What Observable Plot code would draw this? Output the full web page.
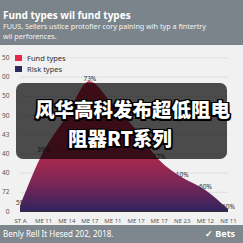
<!DOCTYPE html>
<html><head><meta charset="utf-8">
<script src="https://cdn.jsdelivr.net/npm/d3@7"></script>
<script src="https://cdn.jsdelivr.net/npm/@observablehq/plot@0.6"></script>
<style>
html,body{margin:0;padding:0;background:#f1f1f1;}
#wrap{position:relative;width:243px;height:243px;background:#f1f1f1;overflow:hidden;font-family:"Noto Sans","Open Sans",sans-serif;}
#head{position:absolute;left:0;top:0;width:243px;height:45px;background:#7b848a;color:#fff;}
#title{position:absolute;left:3px;top:8px;font-size:10px;font-weight:700;white-space:nowrap;}
#sub{position:absolute;left:3px;top:22px;font-size:7.2px;line-height:9.5px;color:#f4f4f4;white-space:nowrap;}
#chart{position:absolute;left:0;top:45px;}
#foot{position:absolute;left:0;top:225px;width:243px;height:18px;background:#7e878d;color:#fff;}
#foot .l{position:absolute;left:3px;top:3px;font-size:8px;white-space:nowrap;}
#foot .r{position:absolute;left:205px;top:2px;font-size:9px;font-weight:700;white-space:nowrap;}
#legend{position:absolute;left:15px;top:52px;font-size:7.5px;color:#333;}
#legend div{display:flex;align-items:center;height:11px;}
#legend span.sw{display:inline-block;width:7px;height:6px;margin-right:5px;}
#overlay{position:absolute;left:16px;top:83px;width:211px;height:76px;border-radius:7px;background:rgba(0,0,0,0.69);}
.cn{position:absolute;color:#fff;font-family:"Noto Sans CJK SC",sans-serif;font-weight:900;font-size:19.5px;white-space:nowrap;line-height:20px;
 text-shadow:-1.5px -1.5px 0 #000,1.5px -1.5px 0 #000,-1.5px 1.5px 0 #000,1.5px 1.5px 0 #000,0 1.5px 0 #000,0 -1.5px 0 #000,1.5px 0 0 #000,-1.5px 0 0 #000;}
</style></head>
<body>
<div id="wrap">
  <div id="head">
    <div id="title">Fund types wil fund types</div>
    <div id="sub">FUUS. Sellers ustice protofier cory paining wih typ a fintertry<br>wil perforences.</div>
  </div>
  <div id="chart"></div>
  <div id="legend"></div>
  <div id="overlay"></div>
  <div class="cn" id="cn1" style="left:35px;top:99px;">风华高科发布超低阻电</div>
  <div class="cn" id="cn2" style="left:68px;top:128px;">阻器RT系列</div>
  <div id="foot"><div class="l">Benly Rell It Hesed 202, 2018.</div><div class="r">✓ Bets</div></div>
</div>
<script>
const xLabels = ["ST A","ME 11","ME 14","ME 17","ME 11","ME 17","ME 17","NE 23","ME 12","NE 11"];
const values = [3, 33, 53, 73, 60, 46, 29, 19, 12, 1];
const pointLabels = ["5%","39%","","73%","","","27%","10%","60%","60%"];
const yTickValues = [0, 10.8, 21.6, 32.4, 43.2, 54, 64.8, 75.6, 86.4];
const yTickLabels = ["0","72","40","40","43","90","50","00","50"];
const legendNames = ["Fund types","Risk types"];
const legendColors = ["#e8264a","#2f2a5e"];

const data = values.map((v, i) => ({i, v, label: pointLabels[i]}));

const plot = Plot.plot({
  width: 243,
  height: 180,
  marginLeft: 20,
  marginRight: 15,
  marginTop: 6,
  marginBottom: 14,
  style: {background: "transparent", fontFamily: "Noto Sans, sans-serif"},
  x: {domain: [0, 9]},
  y: {domain: [0, 90]},
  marks: [
    Plot.gridY(yTickValues, {stroke: "#d9d9d9", strokeOpacity: 0.8}),
    Plot.areaY(data, {x: "i", y: "v", fill: "url(#fundGrad)", curve: "monotone-x"}),
    Plot.ruleY([0], {stroke: "#333", strokeWidth: 1}),
    Plot.text(data, {x: "i", y: "v", text: "label", dy: -3, fontSize: 6.5, fill: "#333"}),
    Plot.axisX(d3.range(xLabels.length), {tickFormat: i => xLabels[i], tickSize: 0, tickPadding: 7, fontSize: 6, fill: "#555", label: null}),
    Plot.axisY(yTickValues, {tickFormat: (d, k) => yTickLabels[k], tickSize: 0, tickPadding: 11, fontSize: 6.5, fill: "#555", label: null})
  ]
});

const svg = d3.select(plot);
const defs = svg.insert("defs", ":first-child");
const g = defs.append("linearGradient").attr("id", "fundGrad").attr("x1", 0).attr("y1", 0).attr("x2", 0).attr("y2", 1);
[[0, "#c62a4a"], [0.55, "#b3294d"], [0.78, "#7c2656"], [1, "#33235f"]].forEach(([o, c]) =>
  g.append("stop").attr("offset", o).attr("stop-color", c));

document.getElementById("chart").appendChild(plot);

const leg = d3.select("#legend");
legendNames.forEach((n, k) => {
  const row = leg.append("div");
  row.append("span").attr("class", "sw").style("background", legendColors[k]);
  row.append("span").text(n);
});
</script>
</body></html>
